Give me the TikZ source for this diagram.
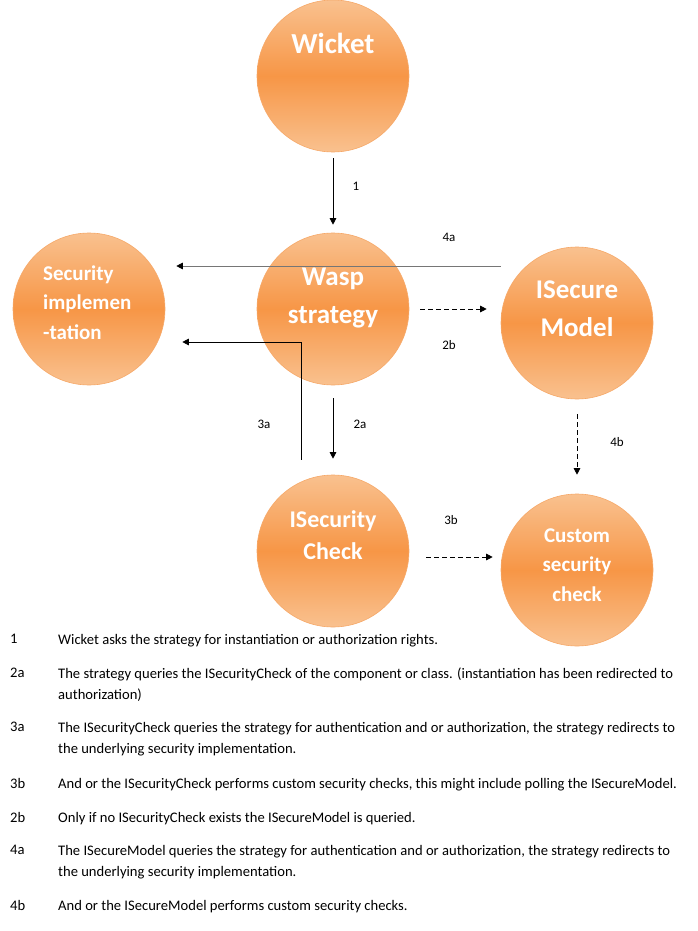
\documentclass[tikz,border=0pt]{standalone}
\usepackage{fontspec}
\setmainfont{Carlito}
\usetikzlibrary{arrows.meta}

\definecolor{orMain}{HTML}{F79646}
\definecolor{orLight}{HTML}{F9C18F}
\definecolor{orEdge}{HTML}{F6A868}
\definecolor{lineGray}{HTML}{767676}

\tikzset{
  bubble/.style={circle, minimum size=152pt, inner sep=0pt, draw=orEdge, line width=.6pt,
    top color=orLight, bottom color=orLight, middle color=orMain},
  bubtext/.style={text=white, font=\bfseries\fontsize{27}{37.5}\selectfont, align=center, anchor=base, inner sep=0pt},
  smalltext/.style={bubtext, font=\bfseries\fontsize{21}{29.5}\selectfont},
  flow/.style={-{Triangle[length=6.5pt,width=6.5pt]}, line width=.8pt},
  maybe/.style={flow, dash pattern=on 5pt off 3pt},
  lbl/.style={font=\fontsize{13}{15}\selectfont, inner sep=0pt},
  note/.style={font=\fontsize{14.6}{20.5}\selectfont, align=left, anchor=base west, inner sep=0pt}
}

\begin{document}
\begin{tikzpicture}[x=1pt, y=-1pt]
\useasboundingbox (0,0) rectangle (698,931);

\node[bubble] (wicket) at (333,76) {};
\node[bubble] (sec) at (89,309) {};
\node[bubble] (wasp) at (333,309) {};
\node[bubble] (ism) at (577,323) {};
\node[bubble] (isc) at (333,551) {};
\node[bubble] (csc) at (577,570) {};

% multi-line texts sit on their last baseline
\node[bubtext, font=\bfseries\fontsize{29}{37.5}\selectfont] (wicketTxt) at (333,54) {Wicket};
\node[smalltext, align=left, anchor=base west] (secTxt) at (43,339) {Security\\implemen\\-tation};
\node[bubtext] (waspTxt) at (333,323) {Wasp\\strategy};
\node[bubtext] (ismTxt) at (577,336) {ISecure\\Model};
\node[bubtext, font=\bfseries\fontsize{24}{32}\selectfont] (iscTxt) at (333,559) {ISecurity\\Check};
\node[smalltext] (cscTxt) at (577,601) {Custom\\security\\check};

\draw[flow, shorten <=6pt, shorten >=8pt] (wicket) -- (wasp);
\draw[flow, shorten <=13pt, shorten >=16pt] (wasp) -- (isc);
\draw[maybe, shorten <=11pt, shorten >=14pt] (wasp.east) -- (wasp.east -| ism.west);
\draw[maybe, shorten <=17pt, shorten >=8pt] ([yshift=-6pt]isc.east) -- ([yshift=-6pt]isc.east -| csc.west);
\draw[maybe, shorten <=15pt, shorten >=19pt] (ism) -- (csc);
\draw[flow, draw=lineGray, -{Triangle[length=6.5pt,width=6.5pt,color=black]}, shorten >=11pt]
  ([yshift=57pt]ism.west) -- ([yshift=57pt]ism.west -| sec.east);
\draw[flow, shorten >=17pt] ([xshift=-32pt,yshift=15pt]isc.north) |- ([yshift=-33pt]sec.east);

\foreach \txt/\x/\y in {1/356/186, 2a/360/424, 2b/449/345, 3a/264/424, 3b/451/520, 4a/449/237, 4b/617/442}
  \node[lbl] (l\txt) at (\x,\y) {\txt};

\foreach \num/\y/\txt in {
  1/644/{Wicket asks the strategy for instantiation or authorization rights.},
  2a/699/{The strategy queries the ISecurityCheck of the component or class. (instantiation has been redirected to\\authorization)},
  3a/753/{The ISecurityCheck queries the strategy for authentication and or authorization, the strategy redirects to\\the underlying security implementation.},
  3b/788/{And or the ISecurityCheck performs custom security checks, this might include polling the ISecureModel.},
  2b/822/{Only if no ISecurityCheck exists the ISecureModel is queried.},
  4a/876/{The ISecureModel queries the strategy for authentication and or authorization, the strategy redirects to\\the underlying security implementation.},
  4b/910/{And or the ISecureModel performs custom security checks.}}{
  \node[note] (t\num) at (58,\y) {\txt};
  \node[note] (n\num) at (10,\y |- t\num.north) [anchor=north west] {\num};
}
\end{tikzpicture}
\end{document}
